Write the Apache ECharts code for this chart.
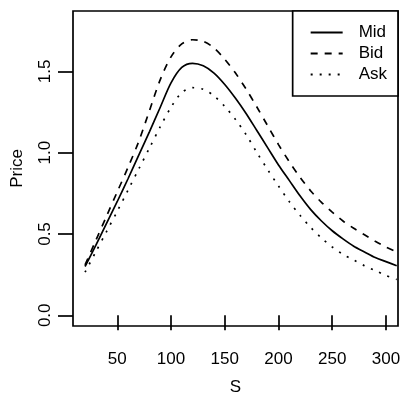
<!DOCTYPE html>
<html>
<head>
<meta charset="utf-8">
<script src="https://cdn.jsdelivr.net/npm/echarts@6/dist/echarts.min.js"></script>
<style>
html,body{margin:0;padding:0;background:#fff;}
#c{width:404px;height:401px;}
</style>
</head>
<body>
<div id="c"></div>
<script>
// Data
var S = [20,30,40,50,60,70,80,90,100,110,120,130,140,150,160,170,180,190,200,210,220,230,240,250,260,270,280,290,300,310];
var midPrice = [0.30,0.43,0.565,0.70,0.84,0.985,1.13,1.28,1.43,1.525,1.55,1.535,1.49,1.42,1.335,1.24,1.135,1.03,0.925,0.83,0.735,0.65,0.58,0.52,0.47,0.425,0.39,0.355,0.33,0.305];
var bidPrice = [0.31,0.46,0.61,0.76,0.91,1.07,1.26,1.45,1.59,1.67,1.695,1.685,1.645,1.575,1.49,1.39,1.28,1.165,1.05,0.945,0.85,0.765,0.695,0.635,0.58,0.535,0.495,0.455,0.42,0.39];
var askPrice = [0.265,0.39,0.515,0.64,0.77,0.90,1.03,1.16,1.28,1.37,1.40,1.39,1.35,1.285,1.205,1.11,1.00,0.895,0.795,0.70,0.615,0.54,0.475,0.42,0.375,0.34,0.305,0.275,0.245,0.22];
var xTicks = [50,100,150,200,250,300];
var yTicks = [0,0.5,1.0,1.5];

function pairs(xs, ys){ return xs.map(function(x,i){ return [x, ys[i]]; }); }

var FONT = 'Liberation Sans, Arial, Helvetica, sans-serif';
var LW = 1.7;

var chart = echarts.init(document.getElementById('c'), null, {renderer:'canvas'});
chart.setOption({
  animation: false,
  backgroundColor: '#fff',
  textStyle: {fontFamily: FONT, color: '#000'},
  grid: {left: 73, right: 6, top: 11, bottom: 67.5, show: true, borderColor: '#000', borderWidth: LW, backgroundColor: 'transparent'},
  legend: {
    right: 6, top: 11,
    orient: 'vertical',
    backgroundColor: '#fff',
    borderColor: '#000', borderWidth: LW, borderRadius: 0,
    padding: [13, 11, 13, 17],
    itemWidth: 32, itemHeight: 14, itemGap: 4,
    align: 'left',
    itemStyle: {color: 'transparent', borderWidth: 0, opacity: 0},
    textStyle: {fontFamily: FONT, fontSize: 17, color: '#000', lineHeight: 17, padding: [0,0,0,11]},
    data: ['Mid','Bid','Ask']
  },
  xAxis: {
    type: 'value', min: 8.8, max: 311.2,
    name: 'S', nameLocation: 'middle', nameGap: 53,
    nameTextStyle: {fontFamily: FONT, fontSize: 17, color: '#000'},
    axisLine: {show: false},
    splitLine: {show: false},
    axisTick: {show: true, inside: false, length: 15, customValues: xTicks, lineStyle: {color: '#000', width: LW}},
    axisLabel: {show: true, margin: 24.5, fontSize: 17, color: '#000', fontFamily: FONT, customValues: xTicks}
  },
  yAxis: {
    type: 'value', min: -0.066, max: 1.872,
    name: 'Price', nameLocation: 'middle', nameGap: 47.5, nameRotate: 90,
    nameTextStyle: {fontFamily: FONT, fontSize: 17, color: '#000'},
    axisLine: {show: false},
    splitLine: {show: false},
    axisTick: {show: true, inside: false, length: 15, customValues: yTicks, lineStyle: {color: '#000', width: LW}},
    axisLabel: {show: true, margin: 19.5, rotate: 90, fontSize: 17, color: '#000', fontFamily: FONT, customValues: yTicks,
      formatter: function(v){ return v.toFixed(1); }}
  },
  series: [
    {name: 'Mid', type: 'line', data: pairs(S, midPrice), symbol: 'none', smooth: 0.3, clip: true,
     lineStyle: {color: '#000', width: LW, type: 'solid'}, itemStyle: {color: '#000'}},
    {name: 'Bid', type: 'line', data: pairs(S, bidPrice), symbol: 'none', smooth: 0.3, clip: true,
     lineStyle: {color: '#000', width: LW, type: [7, 7]}, itemStyle: {color: '#000'}},
    {name: 'Ask', type: 'line', data: pairs(S, askPrice), symbol: 'none', smooth: 0.3, clip: true,
     lineStyle: {color: '#000', width: LW, type: [2, 7]}, itemStyle: {color: '#000'}}
  ]
});
</script>
</body>
</html>
